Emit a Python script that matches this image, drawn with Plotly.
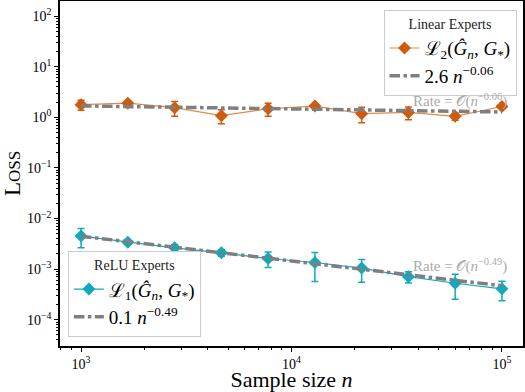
import plotly.graph_objects as go

# Data
sample_sizes = [1000, 1668, 2783, 4642, 7743, 12915, 21544, 35938, 59948, 100000]
linear_loss = [1.78, 1.91, 1.55, 1.08, 1.48, 1.67, 1.18, 1.25, 1.05, 1.64]
linear_err = [0.40, 0.20, 0.50, 0.33, 0.43, 0.15, 0.40, 0.35, 0.17, 0.05]
relu_loss = [4.5e-3, 3.4e-3, 2.63e-3, 2.1e-3, 1.62e-3, 1.35e-3, 1.05e-3, 7.1e-4, 5.25e-4, 4.07e-4]
relu_err = [1.85e-3, 0.25e-3, 0.40e-3, 0.30e-3, 0.55e-3, 0.78e-3, 0.50e-3, 0.18e-3, 0.27e-3, 0.17e-3]
linear_fit_coef, linear_fit_exp = 2.55, -0.06
relu_fit_coef, relu_fit_exp = 0.132, -0.49
x_tick_vals = [1e3, 1e4, 1e5]
x_tick_text = ["10<sup>3</sup>", "10<sup>4</sup>", "10<sup>5</sup>"]
y_tick_vals = [1e-4, 1e-3, 1e-2, 1e-1, 1e0, 1e1, 1e2]
y_tick_text = ["10<sup>−4</sup>", "10<sup>−3</sup>", "10<sup>−2</sup>", "10<sup>−1</sup>",
               "10<sup>0</sup>", "10<sup>1</sup>", "10<sup>2</sup>"]

ORANGE = "#CF5B0C"
ORANGE_LINE = "#E08A4A"
CYAN = "#12AABB"
GREY = "#7F7F7F"
FONT = "Liberation Serif"

linear_fit = [linear_fit_coef * n ** linear_fit_exp for n in sample_sizes]
relu_fit = [relu_fit_coef * n ** relu_fit_exp for n in sample_sizes]

fig = go.Figure()

fig.add_trace(go.Scatter(
    x=sample_sizes, y=linear_loss, mode="lines+markers",
    line=dict(color=ORANGE_LINE, width=1.2),
    marker=dict(symbol="diamond", size=10, color=ORANGE),
    error_y=dict(type="data", array=linear_err, color=ORANGE, thickness=1.5, width=3.5),
    name="ℒ<sub>2</sub>(<i>Ĝ</i><sub><i>n</i></sub>, <i>G</i><sub>*</sub>)",
    legend="legend",
))
fig.add_trace(go.Scatter(
    x=sample_sizes, y=linear_fit, mode="lines",
    line=dict(color=GREY, width=3.5, dash="dashdot"),
    name="2.6 <i>n</i><sup>−0.06</sup>",
    legend="legend",
))
fig.add_trace(go.Scatter(
    x=sample_sizes, y=relu_loss, mode="lines+markers",
    line=dict(color=CYAN, width=1.2),
    marker=dict(symbol="diamond", size=10, color=CYAN),
    error_y=dict(type="data", array=relu_err, color=CYAN, thickness=1.5, width=3.5),
    name="ℒ<sub>1</sub>(<i>Ĝ</i><sub><i>n</i></sub>, <i>G</i><sub>*</sub>)",
    legend="legend2",
))
fig.add_trace(go.Scatter(
    x=sample_sizes, y=relu_fit, mode="lines",
    line=dict(color=GREY, width=3.5, dash="dashdot"),
    name="0.1 <i>n</i><sup>−0.49</sup>",
    legend="legend2",
))

def minor_vals(lo, hi):
    vals = []
    for e in range(lo, hi + 1):
        for m in range(2, 10):
            vals.append(m * 10 ** e)
    return vals

axis_common = dict(
    type="log", showgrid=False, zeroline=False, automargin=False,
    showline=True, linecolor="black", linewidth=1.5, mirror=True,
    ticks="outside", ticklen=4, tickwidth=1, tickcolor="black",
    tickmode="array",
    tickfont=dict(family=FONT, size=14, color="black"),
)

fig.update_xaxes(
    **axis_common,
    range=[2.9, 5.1],
    tickvals=x_tick_vals, ticktext=x_tick_text,
    minor=dict(ticks="outside", ticklen=2.5, tickwidth=0.8, tickcolor="black",
               tickmode="array", tickvals=minor_vals(2, 5)),
    title=dict(text="Sample size <i>n</i>", font=dict(family=FONT, size=22, color="black"), standoff=5),
)
fig.update_yaxes(
    **axis_common,
    range=[-4.52, 2.30],
    tickvals=y_tick_vals, ticktext=y_tick_text,
    minor=dict(ticks="outside", ticklen=2.5, tickwidth=0.8, tickcolor="black",
               tickmode="array", tickvals=minor_vals(-5, 2)),
    title=dict(text="L<span style='font-size:17px'>OSS</span>",
               font=dict(family=FONT, size=23, color="black"), standoff=8),
)

legend_common = dict(
    bgcolor="rgba(255,255,255,0.85)", bordercolor="#CCCCCC", borderwidth=1,
    font=dict(family=FONT, size=19, color="black"),
    tracegroupgap=0, itemwidth=30,
)
fig.update_layout(
    width=525, height=392,
    margin=dict(l=60, r=2, t=1, b=46, autoexpand=False),
    paper_bgcolor="white", plot_bgcolor="white",
    showlegend=True,
    legend=dict(**legend_common, x=0.986, y=0.974, xanchor="right", yanchor="top",
                title=dict(text="Linear Experts", side="top center",
                           font=dict(family=FONT, size=14, color="#222222"))),
    legend2=dict(**legend_common, x=0.017, y=0.026, xanchor="left", yanchor="bottom",
                 title=dict(text="ReLU Experts", side="top center",
                            font=dict(family=FONT, size=14, color="#222222"))),
)

fig.add_annotation(x=5.034, y=0.324, xref="x", yref="y", xanchor="right", yanchor="middle",
                   text="Rate = 𝒪(<i>n</i><sup>−0.06</sup>)", showarrow=False,
                   font=dict(family=FONT, size=15, color="#AAAAAA"))
fig.add_annotation(x=5.034, y=-2.937, xref="x", yref="y", xanchor="right", yanchor="middle",
                   text="Rate = 𝒪(<i>n</i><sup>−0.49</sup>)", showarrow=False,
                   font=dict(family=FONT, size=15, color="#AAAAAA"))

fig.write_html("out.html", config={"displayModeBar": False},
               post_script="document.body.style.margin='0';")
